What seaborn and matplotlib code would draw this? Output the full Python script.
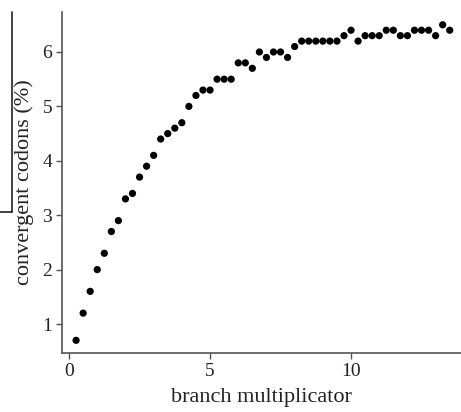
import numpy as np
import pandas as pd
import seaborn as sns
import matplotlib
matplotlib.use("Agg")
import matplotlib.pyplot as plt
from matplotlib.lines import Line2D

branch_multiplicator = [0.25 * k for k in range(1, 55)]
convergent_pct = [
    0.7, 1.2, 1.6, 2.0, 2.3, 2.7, 2.9, 3.3, 3.4, 3.7,
    3.9, 4.1, 4.4, 4.5, 4.6, 4.7, 5.0, 5.2, 5.3, 5.3,
    5.5, 5.5, 5.5, 5.8, 5.8, 5.7, 6.0, 5.9, 6.0, 6.0,
    5.9, 6.1, 6.2, 6.2, 6.2, 6.2, 6.2, 6.2, 6.3, 6.4,
    6.2, 6.3, 6.3, 6.3, 6.4, 6.4, 6.3, 6.3, 6.4, 6.4,
    6.4, 6.3, 6.5, 6.4,
]
x_ticks = [0, 5, 10]
y_ticks = [1, 2, 3, 4, 5, 6]

df = pd.DataFrame({"x": branch_multiplicator, "y": convergent_pct})

sns.set_theme(style="ticks")
plt.rcParams["font.family"] = ["Liberation Serif", "DejaVu Serif"]

fig = plt.figure(figsize=(4.61, 4.12), dpi=100)
ax = fig.add_axes([62 / 461, (412 - 353) / 412, 1 - 62 / 461, (353 - 12) / 412])
sns.scatterplot(data=df, x="x", y="y", ax=ax, color="black", s=27,
                linewidth=0, edgecolor="none", legend=False)

ax.set_xlim(-0.25, 13.9)
ax.set_ylim(0.467, 6.735)
ax.set_xticks(x_ticks)
ax.set_yticks(y_ticks)
ax.set_xlabel("branch multiplicator", fontsize=16, color="#222222", labelpad=6)
ax.set_ylabel("convergent codons (%)", fontsize=16, color="#222222", labelpad=6)
ax.tick_params(axis="both", labelsize=14, length=4, width=1, color="#555555",
               labelcolor="#222222", direction="out", pad=3)
for side in ["top", "right"]:
    ax.spines[side].set_visible(False)
for side in ["left", "bottom"]:
    ax.spines[side].set_color("#555555")
    ax.spines[side].set_linewidth(1.2)

# thin border line artifact on the left of the figure
fig.add_artist(Line2D([12 / 461, 12 / 461], [1 - 12 / 412, 1 - 212 / 412],
                      transform=fig.transFigure, color="#222222", lw=1.2))
fig.add_artist(Line2D([0, 12 / 461], [1 - 212 / 412, 1 - 212 / 412],
                      transform=fig.transFigure, color="#222222", lw=1.2))

fig.savefig("out.png", dpi=100)
